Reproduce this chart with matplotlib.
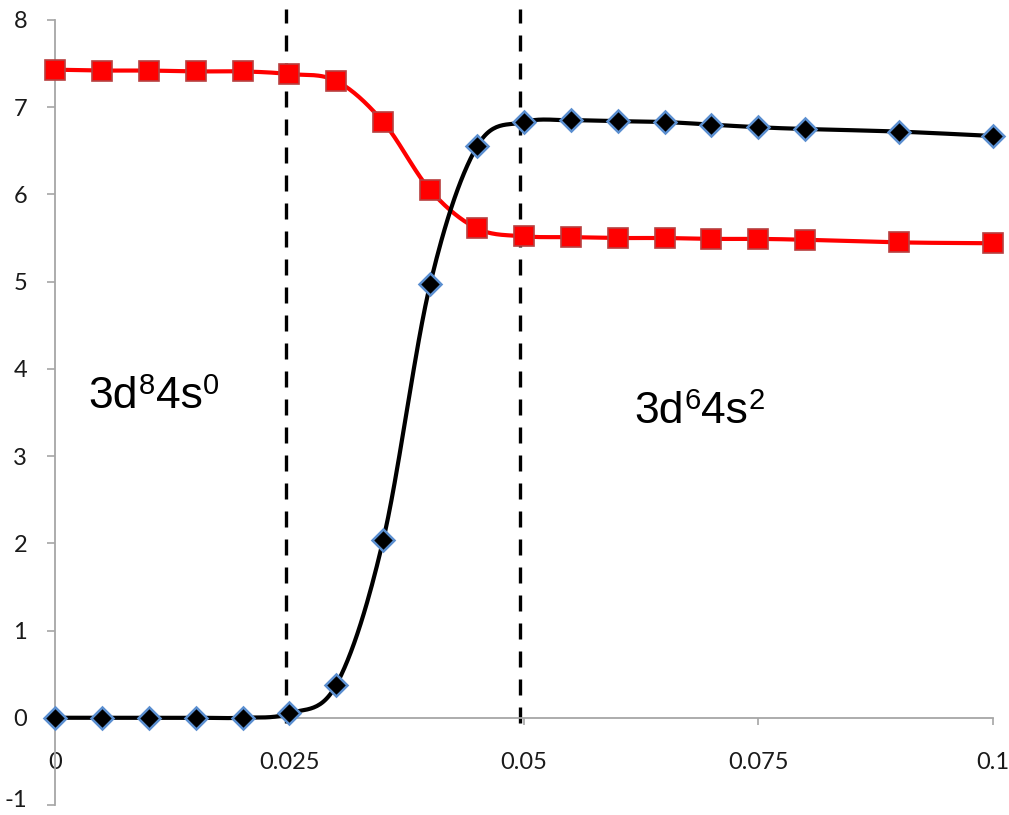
import numpy as np
import matplotlib
matplotlib.use("Agg")
import matplotlib.pyplot as plt
from matplotlib.transforms import IdentityTransform

# Occupation data vs. parameter
x_vals = [0, 0.005, 0.01, 0.015, 0.02, 0.025, 0.03, 0.035, 0.04, 0.045,
          0.05, 0.055, 0.06, 0.065, 0.07, 0.075, 0.08, 0.09, 0.1]
d_occ = [7.43, 7.42, 7.42, 7.41, 7.41, 7.38, 7.30, 6.83, 6.05, 5.61,
         5.52, 5.51, 5.50, 5.50, 5.49, 5.49, 5.48, 5.45, 5.44]
s_occ = [0.0, 0.0, 0.0, 0.0, 0.0, 0.05, 0.38, 2.04, 4.97, 6.55,
         6.83, 6.85, 6.84, 6.83, 6.80, 6.77, 6.75, 6.72, 6.67]
boundaries = [0.0246, 0.0496]
x_ticks = [0, 0.025, 0.05, 0.075, 0.1]
x_ticklabels = ["0", "0.025", "0.05", "0.075", "0.1"]
y_ticks = list(range(-1, 9))
y_ticklabels = [str(v) for v in y_ticks]
config_left = [("3d", False), ("8", True), ("4s", False), ("0", True)]
config_right = [("3d", False), ("6", True), ("4s", False), ("2", True)]


def smooth(xs, ys, n=30):
    """Bezier smoothing through all points (Catmull-Rom style, tension 1/6)."""
    p = np.column_stack([xs, ys]).astype(float)
    m = len(p)
    out = []
    t = np.linspace(0, 1, n)[:, None]
    for i in range(m - 1):
        p0 = p[i - 1] if i > 0 else p[i]
        p1, p2 = p[i], p[i + 1]
        p3 = p[i + 2] if i + 2 < m else p[i + 1]
        c1 = p1 + (p2 - p0) / 6.0
        c2 = p2 - (p3 - p1) / 6.0
        seg = ((1 - t) ** 3) * p1 + 3 * ((1 - t) ** 2) * t * c1 \
            + 3 * (1 - t) * t ** 2 * c2 + t ** 3 * p2
        out.append(seg if i == 0 else seg[1:])
    seg = np.vstack(out)
    return seg[:, 0], seg[:, 1]


def config_label(ax, x, y, parts, base=32, sup=21, rise=14):
    """Write a label with superscripts piece by piece, baseline at (x, y)."""
    fig = ax.figure
    renderer = fig.canvas.get_renderer()
    px, py = ax.transData.transform((x, y))
    for s, is_sup in parts:
        t = fig.text(px, py + (rise if is_sup else 0), s,
                     fontsize=sup if is_sup else base,
                     family="Liberation Sans", ha="left", va="baseline",
                     transform=IdentityTransform())
        bb = t.get_window_extent(renderer)
        px = bb.x1 + (1 if is_sup else 0)


plt.rcParams["font.family"] = ["Lato", "DejaVu Sans"]
plt.rcParams["axes.unicode_minus"] = False

fig = plt.figure(figsize=(10.09, 8.15), dpi=100)
ax = fig.add_axes([0.0545, 0.0123, 0.9295, 0.9632])
ax.set_xlim(0, 0.1)
ax.set_ylim(-1, 8)

spine_col = "#a6a6a6"
for side in ("top", "right"):
    ax.spines[side].set_visible(False)
ax.spines["bottom"].set_position(("data", 0))
ax.spines["bottom"].set_color(spine_col)
ax.spines["left"].set_color(spine_col)
ax.spines["bottom"].set_linewidth(1.3)
ax.spines["left"].set_linewidth(1.3)

ax.set_xticks(x_ticks)
ax.set_xticklabels(x_ticklabels)
ax.set_yticks(y_ticks)
# the lowest label is written separately, nudged up to stay on the canvas
ax.set_yticklabels([""] + y_ticklabels[1:])
ax.tick_params(axis="x", direction="out", length=5, width=1.2, color=spine_col,
               labelsize=17, pad=20, labelcolor="#1a1a1a")
ax.tick_params(axis="y", direction="out", length=6, width=1.2, color=spine_col,
               labelsize=17, pad=14, labelcolor="#1a1a1a")
ax.annotate(y_ticklabels[0], xy=(0, y_ticks[0]), xytext=(-20, 3),
            textcoords="offset points", ha="right", va="center",
            fontsize=17, color="#1a1a1a", annotation_clip=False)

# boundary markers between configurations
for b in boundaries:
    ax.plot([b, b], [-0.06, 8.13], color="black", lw=2.4, ls=(0, (4.8, 3.6)),
            clip_on=False, zorder=2)

# smoothed curves with markers
sx, sy = smooth(x_vals, d_occ)
ax.plot(sx, sy, color="#ff0000", lw=3, clip_on=False, zorder=3)
ax.plot(x_vals, d_occ, ls="none", marker="s", ms=15, mfc="#ff0000",
        mec="#b84040", mew=1.2, clip_on=False, zorder=4)

bx, by = smooth(x_vals, s_occ)
ax.plot(bx, by, color="black", lw=3, clip_on=False, zorder=3)
ax.plot(x_vals, s_occ, ls="none", marker="D", ms=11, mfc="black",
        mec="#5b8fd0", mew=1.8, clip_on=False, zorder=5)

config_label(ax, 0.0036, 3.55, config_left)
config_label(ax, 0.0618, 3.38, config_right)

fig.savefig("out.png", dpi=100)
